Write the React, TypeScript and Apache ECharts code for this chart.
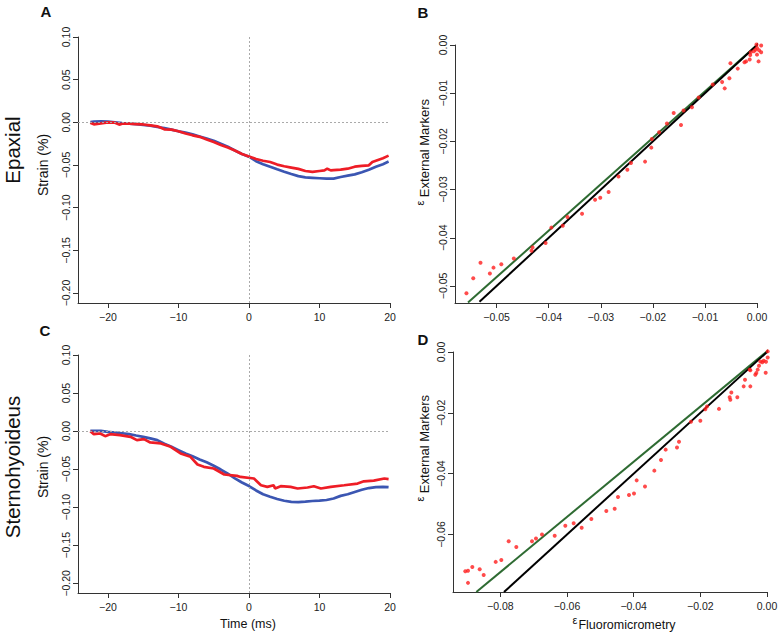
import React, { useEffect, useRef } from "react";
import * as echarts from "echarts";

const FONT = "'Liberation Sans', Arial, Helvetica, sans-serif";

// ---- Panel A (Epaxial) strain traces: [time ms, strain] ----
const epaxialBlue: number[][] = [
  [-22.5, 0.0004], [-22, 0.0008], [-21, 0.0012], [-20, 0.0008], [-19, 0.0], [-18, -0.001],
  [-17, -0.0015], [-16, -0.002], [-15, -0.003], [-14, -0.0038], [-13, -0.0055], [-12, -0.0068],
  [-11, -0.0085], [-10, -0.0105], [-9, -0.012], [-8, -0.014], [-7, -0.0165], [-6, -0.019],
  [-5, -0.0215], [-4, -0.025], [-3, -0.0285], [-2, -0.033], [-1, -0.037], [0, -0.0402],
  [1, -0.0455], [2, -0.049], [3, -0.052], [4, -0.055], [5, -0.0578], [6, -0.0605],
  [7, -0.063], [8, -0.0645], [9, -0.065], [10, -0.0655], [11, -0.066], [12, -0.066],
  [13, -0.064], [14, -0.0625], [15, -0.061], [16, -0.0585], [17, -0.0555], [18, -0.052],
  [19, -0.049], [19.8, -0.046],
];
const epaxialRed: number[][] = [
  [-22.5, -0.0004], [-22, -0.0023], [-21, -0.0012], [-20, 0.0], [-19, -0.0004], [-18.4, -0.0027],
  [-18, -0.0016], [-17, -0.0016], [-16, -0.002], [-15, -0.0025], [-14, -0.0035], [-13, -0.0047],
  [-12, -0.0082], [-11, -0.0085], [-10, -0.0105], [-9, -0.013], [-8, -0.0152], [-7, -0.017],
  [-6, -0.02], [-5, -0.0231], [-4, -0.0265], [-3, -0.0295], [-2, -0.033], [-1, -0.037],
  [0, -0.04], [1, -0.043], [2, -0.045], [3, -0.0465], [4, -0.0495], [5, -0.0515],
  [6, -0.053], [7, -0.0545], [8, -0.057], [9, -0.058], [10, -0.057], [10.7, -0.0563],
  [11.1, -0.0543], [11.6, -0.0563], [12, -0.056], [13, -0.0555], [14, -0.0543], [15, -0.052],
  [16, -0.051], [17, -0.0504], [17.5, -0.0465], [18, -0.045], [19, -0.042], [19.8, -0.039],
];

// ---- Panel C (Sternohyoideus) strain traces ----
const sternoBlue: number[][] = [
  [-22.5, 0.0004], [-22, 0.0005], [-21, 0.0002], [-20, -0.001], [-19, -0.0018], [-18, -0.0028],
  [-17, -0.004], [-16, -0.0058], [-15, -0.0075], [-14, -0.0095], [-13, -0.0118], [-12, -0.0165],
  [-11, -0.0205], [-10, -0.025], [-9, -0.0295], [-8, -0.033], [-7, -0.0372], [-6, -0.041],
  [-5, -0.0456], [-4, -0.0505], [-3, -0.056], [-2, -0.062], [-1, -0.0675], [0, -0.0722],
  [1, -0.078], [2, -0.083], [3, -0.0862], [4, -0.0892], [5, -0.0915], [6, -0.093],
  [7, -0.0932], [8, -0.0926], [9, -0.0918], [10, -0.0913], [11, -0.0905], [12, -0.0885],
  [13, -0.0851], [14, -0.083], [15, -0.08], [16, -0.077], [17, -0.0748], [18, -0.0735],
  [19, -0.0732], [19.8, -0.0737],
];
const sternoRed: number[][] = [
  [-22.5, 0.0], [-22, -0.004], [-21.1, -0.0031], [-20.4, -0.0066], [-19.7, -0.004], [-18.3, -0.0053],
  [-16.8, -0.0075], [-15.9, -0.0118], [-14.9, -0.0105], [-14, -0.0149], [-12.5, -0.0162],
  [-11.1, -0.0206], [-9.7, -0.0294], [-8.3, -0.0338], [-7.3, -0.0439], [-6.4, -0.0469],
  [-5, -0.0491], [-3.5, -0.057], [-1.7, -0.0588], [-1.2, -0.0602], [0.7, -0.0623],
  [1.7, -0.0711], [2.6, -0.0732], [3.5, -0.0711], [3.7, -0.0754], [4.5, -0.0724],
  [5.9, -0.0732], [6.9, -0.0754], [8.3, -0.0741], [9.2, -0.0724], [10.2, -0.0754],
  [11.6, -0.0732], [13.5, -0.0711], [15.4, -0.0689], [16.3, -0.066], [17.7, -0.065],
  [19.2, -0.0623], [19.8, -0.063],
];

// ---- Panel B scatter: [fluoromicrometry strain, external marker strain] ----
const epaxialPoints: number[][] = [
  [-0.0558, -0.0515], [-0.0545, -0.0484], [-0.0531, -0.0452], [-0.0513, -0.0474], [-0.0506, -0.0462],
  [-0.0491, -0.0455], [-0.0467, -0.0443], [-0.0433, -0.0427], [-0.0431, -0.042], [-0.0406, -0.0411],
  [-0.0395, -0.0379], [-0.0373, -0.0375], [-0.0364, -0.0357], [-0.0336, -0.035], [-0.0311, -0.0321],
  [-0.0301, -0.0317], [-0.0285, -0.0305], [-0.0266, -0.0273], [-0.0249, -0.0259], [-0.0242, -0.0245],
  [-0.0215, -0.0242], [-0.0203, -0.0213], [-0.0202, -0.0195], [-0.0188, -0.0181], [-0.0173, -0.0163],
  [-0.016, -0.0141], [-0.0146, -0.0166], [-0.0141, -0.0136], [-0.0125, -0.0129], [-0.0112, -0.0109],
  [-0.0085, -0.0082], [-0.0067, -0.0077], [-0.0062, -0.009], [-0.0053, -0.0069], [-0.0051, -0.0038],
  [-0.0037, -0.0049], [-0.0024, -0.0036], [-0.0021, -0.0034], [-0.0014, -0.003], [-0.0013, -0.0021],
  [-0.0012, -0.0015], [-0.0006, -0.0013], [-0.0003, -0.001], [0.0, -0.002], [0.0, -0.0006],
  [0.0003, -0.0034], [0.0004, -0.0011], [0.0008, -0.0015], [0.0008, -0.0001], [-0.0001, 0.0001],
];
// ---- Panel D scatter ----
const sternoPoints: number[][] = [
  [-0.0905, -0.0721], [-0.0897, -0.0719], [-0.0897, -0.0759], [-0.0884, -0.0707], [-0.0862, -0.0714],
  [-0.085, -0.0733], [-0.0814, -0.069], [-0.0797, -0.0684], [-0.0775, -0.0622], [-0.0752, -0.0641],
  [-0.0705, -0.0622], [-0.0693, -0.0613], [-0.0675, -0.06], [-0.0637, -0.0604], [-0.0605, -0.0571],
  [-0.058, -0.0563], [-0.0556, -0.0578], [-0.0527, -0.0549], [-0.0482, -0.0523], [-0.0457, -0.0515],
  [-0.0447, -0.0477], [-0.0414, -0.047], [-0.0399, -0.0465], [-0.0391, -0.0422], [-0.0366, -0.0442],
  [-0.0338, -0.039], [-0.0318, -0.0355], [-0.0304, -0.0321], [-0.027, -0.0314], [-0.0264, -0.0295],
  [-0.0228, -0.0229], [-0.02, -0.0226], [-0.0185, -0.0188], [-0.018, -0.0179], [-0.0144, -0.0187],
  [-0.0112, -0.0149], [-0.011, -0.0157], [-0.0107, -0.0133], [-0.0089, -0.0149], [-0.007, -0.0113],
  [-0.0066, -0.0091], [-0.005, -0.0113], [-0.0052, -0.0058], [-0.005, -0.006], [-0.0035, -0.0075],
  [-0.0032, -0.0069], [-0.0028, -0.0058], [-0.0024, -0.0045], [-0.002, -0.0031], [-0.0014, -0.0034],
  [-0.001, -0.0029], [-0.0004, -0.0068], [-0.0003, -0.0032], [0.0002, -0.0018], [0.0002, 0.0002],
];

// ---- reference lines (identity and fitted regression) ----
const epaxialIdentityRange = [-0.0533, 0.0012];
const epaxialFit = { slope: 0.963, intercept: 0.0, range: [-0.0555, 0.0012] };
const sternoIdentityRange = [-0.0789, 0.0012];
const sternoFit = { slope: 0.907, intercept: 0.0002, range: [-0.0872, 0.0008] };

// ---- tick values ----
const timeTicks = [-20, -10, 0, 10, 20];
const strainTicks = [-0.2, -0.15, -0.1, -0.05, 0, 0.05, 0.1];
const epaxialTicks = [-0.05, -0.04, -0.03, -0.02, -0.01, 0];
const sternoTicks = [-0.08, -0.06, -0.04, -0.02, 0];

const minus = (s: string) => s.replace("-", "\u2212");
const fmt2 = (v: number) => minus((Math.abs(v) < 1e-9 ? 0 : v).toFixed(2));
const fmt0 = (v: number) => minus(String(Math.round(v)));

const BLUE = "#3b56b2";
const RED = "#ee1d26";
const AXIS = "#333";

function axis(gridIndex: number, min: number, max: number, ticks: number[], fmt: (v: number) => string, isY: boolean) {
  return {
    type: "value",
    gridIndex,
    min,
    max,
    splitLine: { show: false },
    axisLine: { show: true, onZero: false, lineStyle: { color: AXIS, width: 1 } },
    axisTick: { show: true, inside: false, length: 5, customValues: ticks, lineStyle: { color: AXIS, width: 1 } },
    axisLabel: {
      show: true,
      customValues: ticks,
      formatter: fmt,
      rotate: isY ? 90 : 0,
      margin: isY ? 7 : 8,
      color: "#222",
      fontSize: 10.5,
      fontFamily: FONT,
    },
  };
}

function lineFrom(range: number[], slope: number, intercept: number) {
  return range.map((x) => [x, slope * x + intercept]);
}

const dotted = {
  silent: true,
  symbol: "none",
  label: { show: false },
  lineStyle: { type: [2, 2], color: "#aaa", width: 1 },
  data: [{ yAxis: 0 }, { xAxis: 0 }],
};

const txt = (text: string, x: number, y: number, size: number, opts: any = {}) => ({
  type: "text",
  x,
  y,
  rotation: opts.rotate ? Math.PI / 2 : 0,
  style: {
    text,
    fontSize: size,
    fontFamily: FONT,
    fontWeight: opts.bold ? "bold" : "normal",
    fill: opts.color || "#111",
    align: "center",
    verticalAlign: "middle",
  },
});

const option: any = {
  animation: false,
  backgroundColor: "#fff",
  grid: [
    { left: 78, top: 37, width: 312, height: 266, containLabel: false, outerBoundsMode: "none" },
    { left: 455, top: 45, width: 302, height: 258, containLabel: false, outerBoundsMode: "none" },
    { left: 78, top: 355, width: 312, height: 238, containLabel: false, outerBoundsMode: "none" },
    { left: 453, top: 352, width: 314, height: 240, containLabel: false, outerBoundsMode: "none" },
  ],
  xAxis: [
    axis(0, -24.25, 20, timeTicks, fmt0, false),
    axis(1, -0.058, 0, epaxialTicks, fmt2, false),
    axis(2, -24.25, 20, timeTicks, fmt0, false),
    axis(3, -0.0942, 0, sternoTicks, fmt2, false),
  ],
  yAxis: [
    axis(0, -0.2117, 0.1, strainTicks, fmt2, true),
    axis(1, -0.05354, 0, epaxialTicks, fmt2, true),
    axis(2, -0.2127, 0.1, strainTicks, fmt2, true),
    axis(3, -0.0789, 0, sternoTicks, fmt2, true),
  ],
  series: [
    { type: "line", xAxisIndex: 0, yAxisIndex: 0, data: epaxialBlue, showSymbol: false, lineStyle: { color: BLUE, width: 2.7 }, markLine: dotted, z: 2 },
    { type: "line", xAxisIndex: 0, yAxisIndex: 0, data: epaxialRed, showSymbol: false, lineStyle: { color: RED, width: 2.7 }, z: 3 },
    { type: "line", xAxisIndex: 2, yAxisIndex: 2, data: sternoBlue, showSymbol: false, lineStyle: { color: BLUE, width: 2.7 }, markLine: dotted, z: 2 },
    { type: "line", xAxisIndex: 2, yAxisIndex: 2, data: sternoRed, showSymbol: false, lineStyle: { color: RED, width: 2.7 }, z: 3 },

    { type: "line", xAxisIndex: 1, yAxisIndex: 1, data: lineFrom(epaxialFit.range, epaxialFit.slope, epaxialFit.intercept), showSymbol: false, clip: false, lineStyle: { color: "#2e6b32", width: 2 }, z: 2 },
    { type: "line", xAxisIndex: 1, yAxisIndex: 1, data: lineFrom(epaxialIdentityRange, 1, 0), showSymbol: false, clip: false, lineStyle: { color: "#000", width: 2 }, z: 3 },
    { type: "scatter", xAxisIndex: 1, yAxisIndex: 1, data: epaxialPoints, symbolSize: 4, clip: false, itemStyle: { color: "#ff1e1e" }, z: 4 },

    { type: "line", xAxisIndex: 3, yAxisIndex: 3, data: lineFrom(sternoFit.range, sternoFit.slope, sternoFit.intercept), showSymbol: false, clip: false, lineStyle: { color: "#2e6b32", width: 2 }, z: 2 },
    { type: "line", xAxisIndex: 3, yAxisIndex: 3, data: lineFrom(sternoIdentityRange, 1, 0), showSymbol: false, clip: false, lineStyle: { color: "#000", width: 2 }, z: 3 },
    { type: "scatter", xAxisIndex: 3, yAxisIndex: 3, data: sternoPoints, symbolSize: 4, clip: false, itemStyle: { color: "#ff1e1e" }, z: 4 },
  ],
  graphic: [
    txt("A", 46, 11, 15, { bold: true }),
    txt("B", 423, 12, 15, { bold: true }),
    txt("C", 45, 330, 15, { bold: true }),
    txt("D", 423, 339, 15, { bold: true }),
    txt("Epaxial", 12, 150, 20.5, { rotate: true }),
    txt("Sternohyoideus", 12, 467, 20.5, { rotate: true }),
    txt("Strain (%)", 43, 165, 14, { rotate: true }),
    txt("Strain (%)", 43, 467, 14, { rotate: true }),
    txt("\u03b5", 420, 203, 11, { rotate: true }),
    txt("External Markers", 424, 148, 13, { rotate: true }),
    txt("\u03b5", 420, 499, 11, { rotate: true }),
    txt("External Markers", 424, 444, 13, { rotate: true }),
    txt("Time (ms)", 248, 624, 12.5),
    txt("\u03b5", 575, 620, 11),
    txt("Fluoromicrometry", 627, 625, 12.5),
  ],
};

export default function App() {
  const ref = useRef<HTMLDivElement>(null);
  useEffect(() => {
    const chart = echarts.init(ref.current!, null, { renderer: "svg" });
    chart.setOption(option);
    return () => chart.dispose();
  }, []);
  return <div ref={ref} style={{ position: "absolute", left: 0, top: 0, width: 780, height: 633, background: "#fff" }} />;
}
